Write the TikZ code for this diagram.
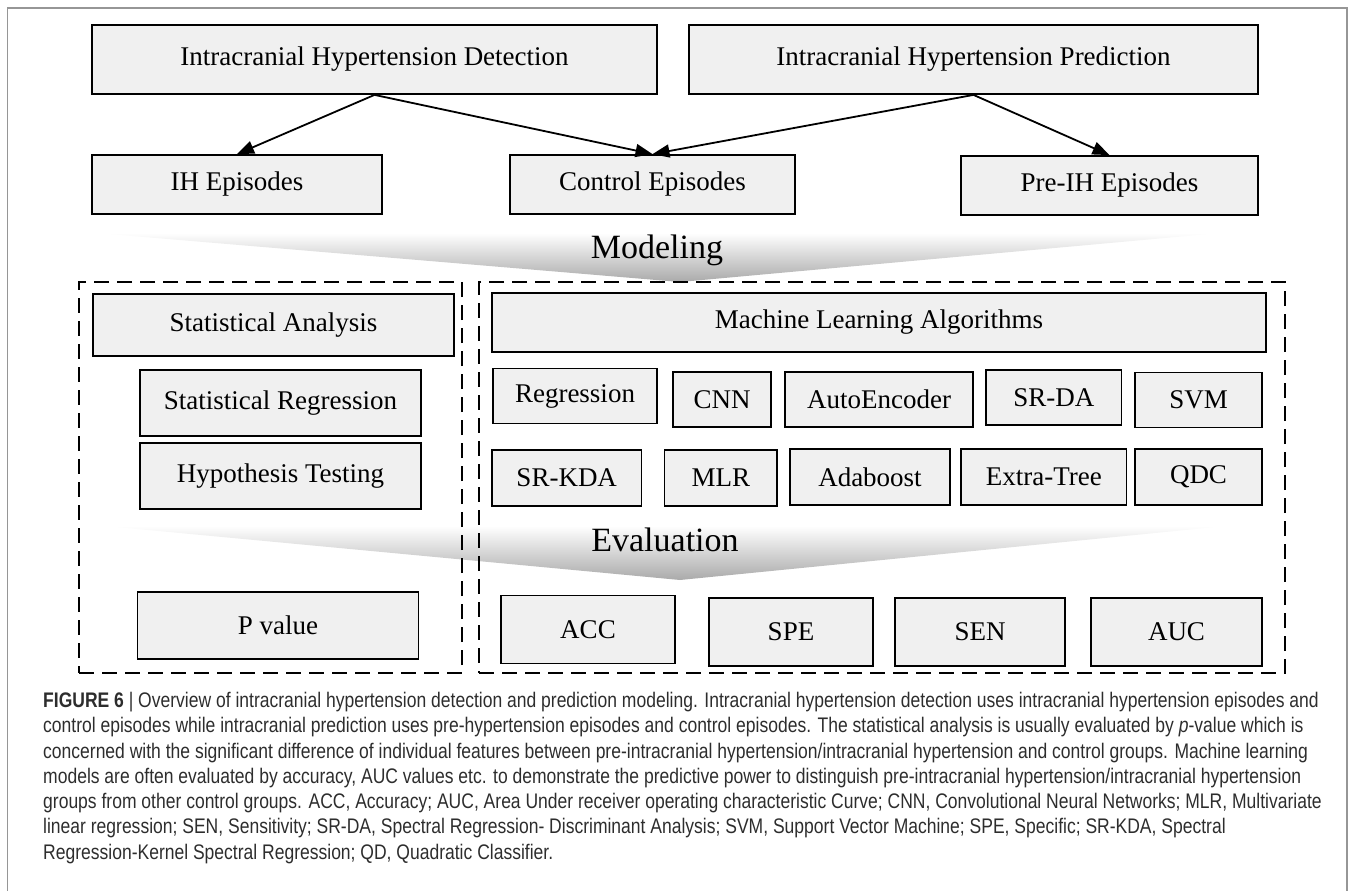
\documentclass[tikz,border=0pt]{standalone}
\usepackage{fontspec}
\setmainfont{Liberation Serif}
\newfontfamily\capfont[FakeStretch=0.83]{Liberation Sans}
\usetikzlibrary{arrows.meta}
\definecolor{BoxGray}{RGB}{240,240,240}
\definecolor{FrameGray}{RGB}{150,150,150}
\definecolor{CapGray}{RGB}{45,45,45}
\definecolor{ShadeGray}{RGB}{170,170,170}

\begin{document}
\begin{tikzpicture}[x=1pt, y=-1pt,
	fl/.style={-{Triangle[length=17pt, width=13pt]}, line width=1.8pt},
	bx/.style={draw, line width=1.8pt, fill=BoxGray, inner sep=0pt, font=\fontsize{27}{30}\selectfont},
	grp/.style={draw, line width=1.8pt, dash pattern=on 15pt off 8pt, inner sep=0pt},
	stage/.style={font=\fontsize{34}{38}\selectfont, inner sep=0pt, anchor=base}]

	\useasboundingbox (0,0) rectangle (1358,891);
	\draw[FrameGray, line width=1.2pt] (7.5,891) |- (1347,8) -- (1347,891);

	% ---------- tasks and episodes ----------
	\node[bx, minimum width=565, minimum height=69] (det) at (374.5,59.5) {Intracranial Hypertension Detection};
	\node[bx, minimum width=569, minimum height=69] (pre) at (973.5,59.5) {Intracranial Hypertension Prediction};
	\node[bx, minimum width=290, minimum height=59] (ih)  at (237,184.5)   {IH Episodes};
	\node[bx, minimum width=285, minimum height=59] (ctl) at (652.5,184.5) {Control Episodes};
	\node[bx, minimum width=297, minimum height=59] (pih) at (1109.5,185.5) {Pre-IH Episodes};
	\foreach \a/\b in {det/ih, det/ctl, pre/ctl, pre/pih}{
		\draw[fl] (\a.south) -- (\b.north);
	}

	% ---------- modeling ----------
	\shade[top color=white, bottom color=ShadeGray] (96,233) -- (1220,233) -- (680,282) -- cycle;
	\node[stage] (mod) at (657,258) {Modeling};

	% ---------- evaluation band ----------
	\shade[top color=white, bottom color=ShadeGray] (105,526) -- (1226,526) -- (680,580) -- cycle;
	\node[stage] (eva) at (665,551) {Evaluation};

	\node[grp, minimum width=383, minimum height=391] (sta) at (270.5,477.5) {};
	\node[grp, minimum width=806, minimum height=391] (mla) at (882,477.5) {};

	% ---------- statistics ----------
	\node[bx, minimum width=361, minimum height=62] (san) at (273.5,325) {Statistical Analysis};
	\node[bx, minimum width=281, minimum height=66] (sre) at (280.5,403) {Statistical Regression};
	\node[bx, minimum width=281, minimum height=66] (hyp) at (280.5,476) {Hypothesis Testing};
	\node[bx, minimum width=281, minimum height=67] (pva) at (278,625.5) {P value};

	% ---------- machine learning ----------
	\node[bx, minimum width=774, minimum height=59] (mlg) at (879,322.5) {Machine Learning Algorithms};
	\foreach \n/\t/\cx/\cy/\w in {reg/Regression/575/396/164, cnn/CNN/722/399.5/98,
		aen/AutoEncoder/879/399.5/188, srd/SR-DA/1053.75/397.5/135.5, svm/SVM/1198.5/400/127}{
		\node[bx, minimum width=\w, minimum height=55] (\n) at (\cx,\cy) {\t};
	}
	\foreach \n/\t/\cx/\cy/\w in {srk/SR-KDA/566.75/478/149.5, mlr/MLR/720.75/478/112.5,
		ada/Adaboost/870/477/160, ext/Extra-Tree/1043.75/477/165.5, qdc/QDC/1198.5/477/127}{
		\node[bx, minimum width=\w, minimum height=56] (\n) at (\cx,\cy) {\t};
	}
	\foreach \n/\t/\cx/\cy/\w in {acc/ACC/588/629.5/174, spe/SPE/791/632/164,
		sen/SEN/980/632/170, auc/AUC/1176.5/632/171}{
		\node[bx, minimum width=\w, minimum height=68] (\n) at (\cx,\cy) {\t};
	}

	% ---------- caption ----------
	\node[anchor=north west, align=left, inner sep=0pt, text=CapGray,
		font=\capfont\fontsize{21.1}{25.3}\selectfont] (cap) at (43,692)
		{{\bfseries FIGURE 6} | Overview of intracranial hypertension detection and prediction modeling. Intracranial hypertension detection uses intracranial hypertension episodes and\\
		control episodes while intracranial prediction uses pre-hypertension episodes and control episodes. The statistical analysis is usually evaluated by \textit{p}-value which is\\
		concerned with the significant difference of individual features between pre-intracranial hypertension/intracranial hypertension and control groups. Machine learning\\
		models are often evaluated by accuracy, AUC values etc. to demonstrate the predictive power to distinguish pre-intracranial hypertension/intracranial hypertension\\
		groups from other control groups. ACC, Accuracy; AUC, Area Under receiver operating characteristic Curve; CNN, Convolutional Neural Networks; MLR, Multivariate\\
		linear regression; SEN, Sensitivity; SR-DA, Spectral Regression- Discriminant Analysis; SVM, Support Vector Machine; SPE, Specific; SR-KDA, Spectral\\
		Regression-Kernel Spectral Regression; QD, Quadratic Classifier.};
\end{tikzpicture}
\end{document}
